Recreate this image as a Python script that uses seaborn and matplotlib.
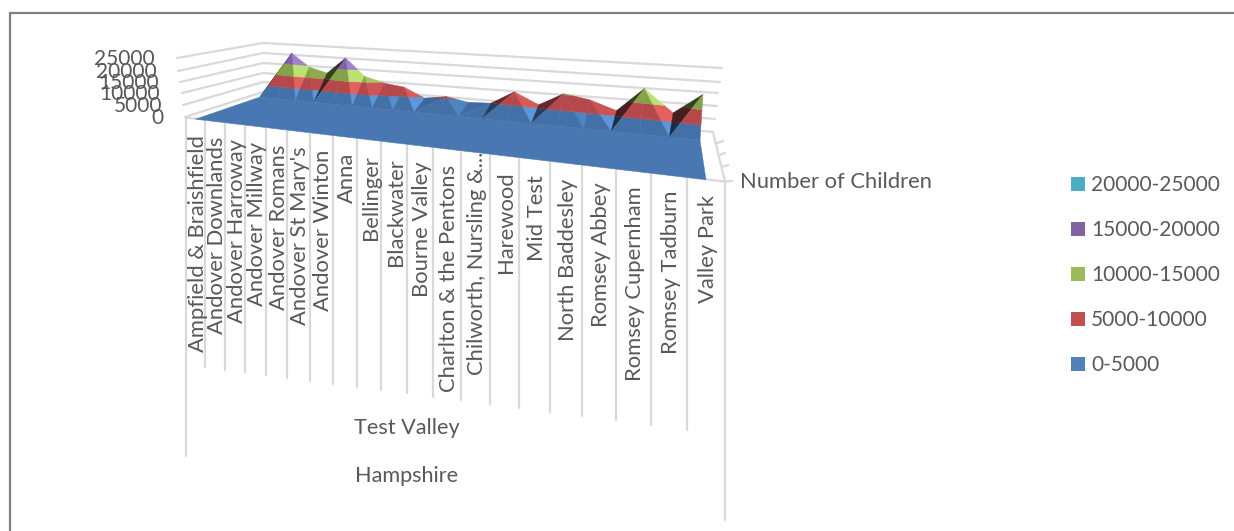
import matplotlib
matplotlib.use("Agg")
import matplotlib.pyplot as plt
import numpy as np
import pandas as pd
import seaborn as sns

wards = ["Ampfield & Braishfield", "Andover Downlands", "Andover Harroway", "Andover Millway",
         "Andover Romans", "Andover St Mary's", "Andover Winton", "Anna", "Bellinger", "Blackwater",
         "Bourne Valley", "Charlton & the Pentons", "Chilworth, Nursling &...", "Harewood", "Mid Test",
         "North Baddesley", "Romsey Abbey", "Romsey Cupernham", "Romsey Tadburn", "Valley Park"]
children = [9100, 19700, 14400, 12500, 19700, 12500, 9650, 8200, 4700, 5500,
            4450, 4900, 9270, 5960, 10350, 9300, 6700, 14800, 7900, 15000]
z_ticks = [0, 5000, 10000, 15000, 20000, 25000]
band_names = ["0-5000", "5000-10000", "10000-15000", "15000-20000", "20000-25000"]
band_edges = [0, 5000, 10000, 15000, 20000, 25000]
legend_colors = ["#4F81BD", "#C0504D", "#9BBB59", "#8064A2", "#4BACC6"]
mid_colors = ["#4470A8", "#B5484A", "#84A24A", "#7D5FA5", "#4BACC6"]
lit_colors = ["#5A97DC", "#E4625E", "#BCE272", "#A082CC", "#6FD0E8"]

GREY = "#595959"
GRID = "#D9D9D9"

sns.set_theme(style="white")
plt.rcParams["font.family"] = ["Lato", "DejaVu Sans"]

fig = plt.figure(figsize=(12.34, 5.31), dpi=100)
ax = fig.add_axes([0, 0, 1, 1])
ax.set_xlim(0, 1234)
ax.set_ylim(531, 0)


def persp(u, k):
    return u / (u + k * (1 - u))


# front edge of the floor, j = 0..20 tick lines
def edge_x(j):
    return 186 + 539 * persp(j / 20, 1.44)


def edge_y(x):
    return 117.5 + 0.1187 * (x - 186)


# row where the surface leaves the floor
def foot(i):
    t = persp(i / 19, 1.35)
    x = 260 + 440 * t
    return x, 97 + 0.098 * (x - 260), t


# back row, same category but raised by its value
def ridge(i, v):
    x, y, t = foot(i)
    s = np.interp(t, [0, 0.2, 0.4, 1], [2.3, 2.35, 3.2, 3.05])
    return x + 15 - 12 * t, y - s * v / 1000


def clip(poly, level, keep_above):
    out = []
    for a, b in zip(poly, poly[1:] + poly[:1]):
        ina = a[2] >= level if keep_above else a[2] <= level
        inb = b[2] >= level if keep_above else b[2] <= level
        if ina:
            out.append(a)
        if ina != inb:
            f = (level - a[2]) / (b[2] - a[2])
            out.append((a[0] + f * (b[0] - a[0]), a[1] + f * (b[1] - a[1]), level))
    return out


def mix(c1, c2, f):
    c1 = np.array(matplotlib.colors.to_rgb(c1))
    c2 = np.array(matplotlib.colors.to_rgb(c2))
    return tuple(c1 + (c2 - c1) * f)


def draw_tri(tri, dz=0):
    for b in range(len(band_names)):
        poly = clip(clip(tri, band_edges[b], True), band_edges[b + 1], False)
        if len(poly) < 3:
            continue
        col = mid_colors[b]
        if dz > 0:
            col = mix(col, "black", min(dz / 6000, 1) * 0.6)
        elif dz < 0:
            # the blue band catches the light on quite small drops
            if b == 0:
                col = mix(col, lit_colors[b], np.clip((-dz - 300) / 1500, 0, 1))
            else:
                col = mix(col, lit_colors[b], np.clip((-dz - 1500) / 2500, 0, 1))
        xy = np.array(poly)[:, :2]
        ax.fill(xy[:, 0], xy[:, 1], color=col, lw=0.3, zorder=3)


# wall grid and category dividers go through seaborn as one long table
rows = []


def add_line(name, x0, y0, x1, y1):
    rows.append((name, x0, y0))
    rows.append((name, x1, y1))


wall_left = [(177, 58), (178, 71), (180, 82), (182, 93), (183, 105), (185, 117)]
wall_back = [(263, 43), (263, 53), (263, 63), (263, 73), (263, 82), (263, 92)]
wall_right = [(722, 68), (720, 82), (718, 93), (717, 106), (715, 119), (713, 132)]
for n in range(6):
    add_line(f"l{n}", *wall_left[n], *wall_back[n])
    add_line(f"r{n}", *wall_back[n], *wall_right[n])
add_line("front", 186, 117.5, 725, 181.5)
add_line("depth", 713, 132, 725, 181.5)
for n, (a, b, c, d) in enumerate([(717, 143, 723, 141), (720, 155, 725, 153),
                                  (722, 167, 728, 165), (725, 181.5, 732, 181)]):
    add_line(f"s{n}", a, b, c, d)
for j in range(21):
    x = edge_x(j)
    bottom = 367 + 0.13 * (x - 205)
    if j == 0:
        bottom = 456
    if j == 20:
        bottom = 520
    add_line(f"t{j}", x, edge_y(x), x, bottom)

lines = pd.DataFrame(rows, columns=["name", "x", "y"])
sns.lineplot(data=lines, x="x", y="y", units="name", estimator=None, sort=False,
             color=GRID, lw=1.6, legend=False, ax=ax, zorder=1)
ax.set_xlim(0, 1234)
ax.set_ylim(531, 0)
ax.axis("off")

# chart frame
ax.plot([10, 10, 1234], [531, 13, 13], color="#808080", lw=1.6, zorder=1, solid_joinstyle="miter")

# sloped front part of the surface
fx = [(edge_x(j) + edge_x(j + 1)) / 2 for j in range(20)]
fy = [edge_y(x) + 0.5 for x in fx]
feet = [foot(i)[:2] for i in range(20)]
ax.fill([fx[0], fx[-1], feet[-1][0]] + [p[0] for p in feet[::-1]],
        [fy[0], fy[-1], feet[-1][1]] + [p[1] for p in feet[::-1]],
        color="#4877B2", lw=0.3, zorder=2)

# raised part, one quad per pair of neighbouring wards, cut along the higher ridge point
for i in range(19):
    v0, v1 = children[i], children[i + 1]
    f0 = (*foot(i)[:2], 0)
    f1 = (*foot(i + 1)[:2], 0)
    r0 = (*ridge(i, v0), v0)
    r1 = (*ridge(i + 1, v1), v1)
    if v1 > v0:
        draw_tri([f0, r0, r1], v1 - v0)
        draw_tri([f0, f1, r1])
    else:
        draw_tri([r0, r1, f1], v1 - v0)
        draw_tri([r0, f0, f1])

# value labels follow the left wall
for n, z in enumerate(z_ticks[::-1]):
    ax.text([155, 157, 159, 160, 162, 163][n], wall_left[n][1] + 1, str(z), ha="right", va="center",
            fontsize=15, color=GREY, zorder=5)

for i, name in enumerate(wards):
    top = edge_y(fx[i]) + 16
    if name.startswith("Chilworth"):
        top = 152
    ax.text(fx[i] + 2, top, name, rotation=90, ha="center", va="top", fontsize=15.8, color=GREY, zorder=5)

ax.text(407, 428.5, "Test Valley", ha="center", va="center", fontsize=15.6, color=GREY)
ax.text(407, 475.5, "Hampshire", ha="center", va="center", fontsize=15.6, color=GREY)
ax.text(740, 182.5, "Number of Children", ha="left", va="center", fontsize=15.8, color=GREY)

# legend, top entry is the highest band
for n, b in enumerate(range(4, -1, -1)):
    y = 184 + 45 * n
    ax.scatter([1078], [y], marker="s", s=100, color=legend_colors[b], lw=0, zorder=5)
    ax.text(1091, y + 1, band_names[b], ha="left", va="center", fontsize=15, color=GREY)

fig.savefig("out.png", dpi=100, facecolor="white")
